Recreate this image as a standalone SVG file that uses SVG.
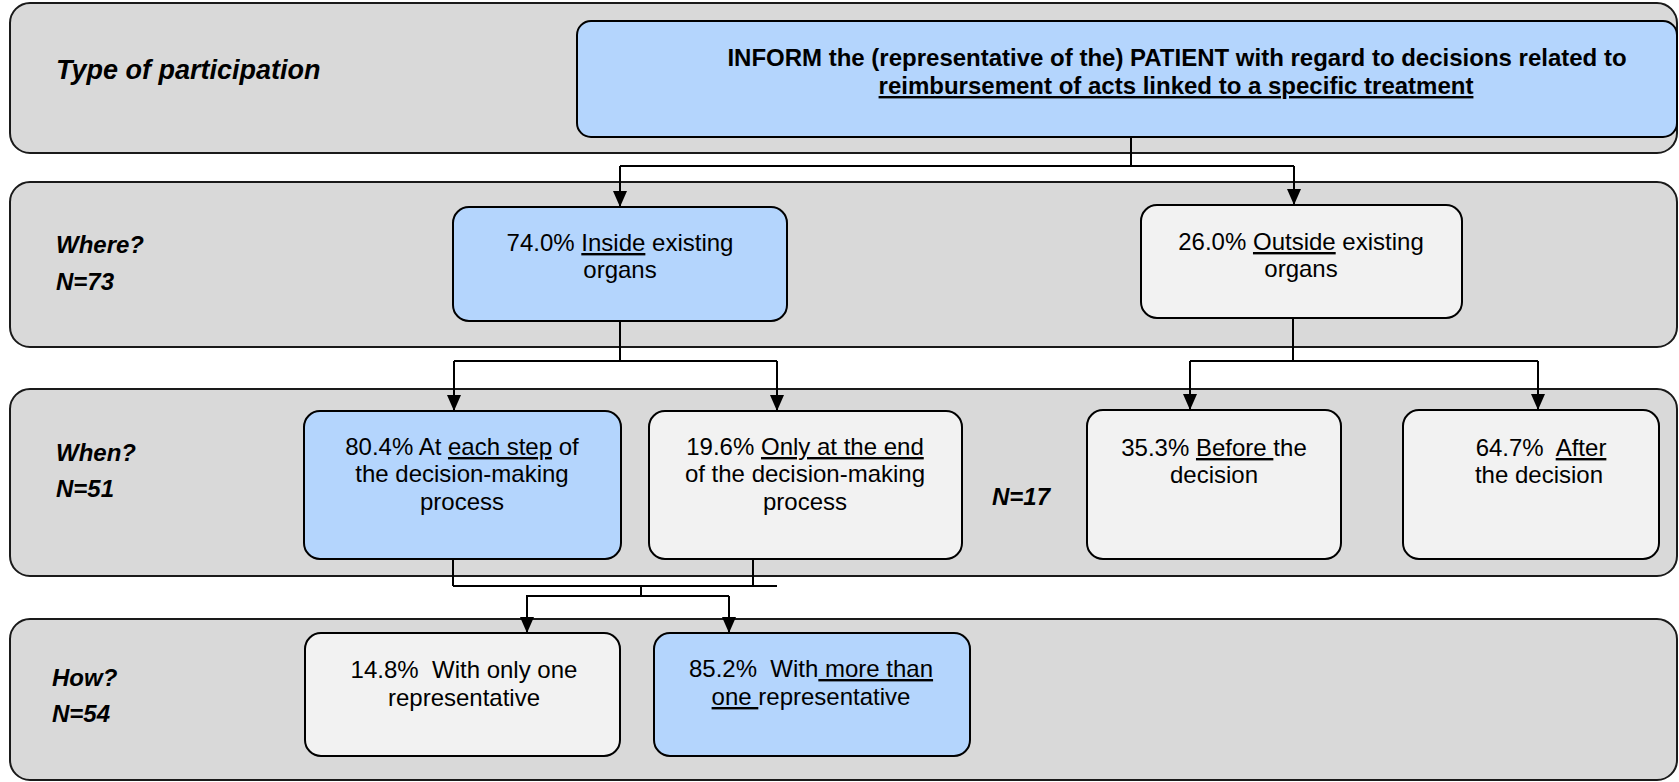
<svg xmlns="http://www.w3.org/2000/svg" width="1679" height="782" viewBox="0 0 1679 782">
  <style>
    .band { fill: #d9d9d9; stroke: #1a1a1a; stroke-width: 2; }
    .box { stroke: #000; stroke-width: 2; }
    .blue { fill: #b4d5fd; }
    .grey { fill: #f2f2f2; }
    .lbl { font-family: "Liberation Sans", Arial, sans-serif; font-size: 24px; font-weight: bold; font-style: italic; fill: #000; }
    .lbl.big { font-size: 27px; }
    .txt { font-family: "Liberation Sans", Arial, sans-serif; font-size: 24px; fill: #000; text-anchor: middle; white-space: pre; }
    .head { font-family: "Liberation Sans", Arial, sans-serif; font-size: 24px; font-weight: bold; fill: #000; text-anchor: middle; white-space: pre; }
    .u { text-decoration: underline; }
    .conn { fill: none; stroke: #000; stroke-width: 2; }
  </style>
  <defs>
    <marker id="arrow" viewBox="0 0 16 14" refX="16" refY="7" markerWidth="16" markerHeight="14" markerUnits="userSpaceOnUse" orient="auto">
      <path d="M0,0 L16,7 L0,14 z" fill="#000"/>
    </marker>
  </defs>

  <rect width="1679" height="782" fill="#ffffff"/>

  <!-- level bands -->
  <g id="band-type">
    <rect class="band" x="10" y="3" width="1667" height="150" rx="20" ry="20"/>
    <text class="lbl big" x="56" y="79">Type of participation</text>
  </g>
  <g id="band-where">
    <rect class="band" x="10" y="182" width="1667" height="165" rx="20" ry="20"/>
    <text class="lbl" x="56" y="253">Where?</text>
    <text class="lbl" x="56" y="290">N=73</text>
  </g>
  <g id="band-when">
    <rect class="band" x="10" y="389" width="1667" height="187" rx="20" ry="20"/>
    <text class="lbl" x="56" y="461">When?</text>
    <text class="lbl" x="56" y="497">N=51</text>
    <text class="lbl" x="992" y="505">N=17</text>
  </g>
  <g id="band-how">
    <rect class="band" x="10" y="619" width="1667" height="161" rx="20" ry="20"/>
    <text class="lbl" x="52" y="686">How?</text>
    <text class="lbl" x="52" y="722">N=54</text>
  </g>

  <!-- connectors -->
  <g id="connectors">
    <path class="conn" d="M1131,137 V166"/>
    <path class="conn" d="M620,166 H1294"/>
    <path class="conn" d="M620,166 V207" marker-end="url(#arrow)"/>
    <path class="conn" d="M1294,166 V205" marker-end="url(#arrow)"/>

    <path class="conn" d="M620,321 V361"/>
    <path class="conn" d="M454,361 H777"/>
    <path class="conn" d="M454,361 V411" marker-end="url(#arrow)"/>
    <path class="conn" d="M777,361 V411" marker-end="url(#arrow)"/>

    <path class="conn" d="M1293,318 V361"/>
    <path class="conn" d="M1190,361 H1538"/>
    <path class="conn" d="M1190,361 V410" marker-end="url(#arrow)"/>
    <path class="conn" d="M1538,361 V410" marker-end="url(#arrow)"/>

    <path class="conn" d="M453,559 V586"/>
    <path class="conn" d="M753,557 V586"/>
    <path class="conn" d="M453,586 H777"/>
    <path class="conn" d="M641,586 V596"/>
    <path class="conn" d="M526,596 H729"/>
    <path class="conn" d="M527,596 V633" marker-end="url(#arrow)"/>
    <path class="conn" d="M729,596 V633" marker-end="url(#arrow)"/>
  </g>

  <!-- nodes -->
  <g id="node-inform">
    <rect class="box blue" x="577" y="21" width="1100" height="116" rx="14" ry="14"/>
    <text class="head" x="1177" y="66">INFORM the (representative of the) PATIENT with regard to decisions related to</text>
    <text class="head" x="1176" y="94"><tspan class="u">reimbursement of acts linked to a specific treatment</tspan></text>
  </g>

  <g id="node-inside">
    <rect class="box blue" x="453" y="207" width="334" height="114" rx="16" ry="16"/>
    <text class="txt" x="620" y="251">74.0% <tspan class="u">Inside</tspan> existing</text>
    <text class="txt" x="620" y="278">organs</text>
  </g>

  <g id="node-outside">
    <rect class="box grey" x="1141" y="205" width="321" height="113" rx="16" ry="16"/>
    <text class="txt" x="1301" y="250">26.0% <tspan class="u">Outside</tspan> existing</text>
    <text class="txt" x="1301" y="277">organs</text>
  </g>

  <g id="node-each-step">
    <rect class="box blue" x="304" y="411" width="317" height="148" rx="16" ry="16"/>
    <text class="txt" x="462" y="455">80.4% At <tspan class="u">each step</tspan> of</text>
    <text class="txt" x="462" y="482">the decision-making</text>
    <text class="txt" x="462" y="510">process</text>
  </g>

  <g id="node-only-end">
    <rect class="box grey" x="649" y="411" width="313" height="148" rx="16" ry="16"/>
    <text class="txt" x="805" y="455">19.6% <tspan class="u">Only at the end</tspan></text>
    <text class="txt" x="805" y="482">of the decision-making</text>
    <text class="txt" x="805" y="510">process</text>
  </g>

  <g id="node-before">
    <rect class="box grey" x="1087" y="410" width="254" height="149" rx="16" ry="16"/>
    <text class="txt" x="1214" y="456">35.3% <tspan class="u">Before </tspan>the</text>
    <text class="txt" x="1214" y="483">decision</text>
  </g>

  <g id="node-after">
    <rect class="box grey" x="1403" y="410" width="256" height="149" rx="16" ry="16"/>
    <text class="txt" x="1541" y="456">64.7%  <tspan class="u">After</tspan></text>
    <text class="txt" x="1539" y="483">the decision</text>
  </g>

  <g id="node-one-rep">
    <rect class="box grey" x="305" y="633" width="315" height="123" rx="16" ry="16"/>
    <text class="txt" x="464" y="678">14.8%  With only one</text>
    <text class="txt" x="464" y="706">representative</text>
  </g>

  <g id="node-more-rep">
    <rect class="box blue" x="654" y="633" width="316" height="123" rx="16" ry="16"/>
    <text class="txt" x="811" y="677">85.2%  With<tspan class="u"> more than</tspan></text>
    <text class="txt" x="811" y="705"><tspan class="u">one </tspan>representative</text>
  </g>
</svg>
